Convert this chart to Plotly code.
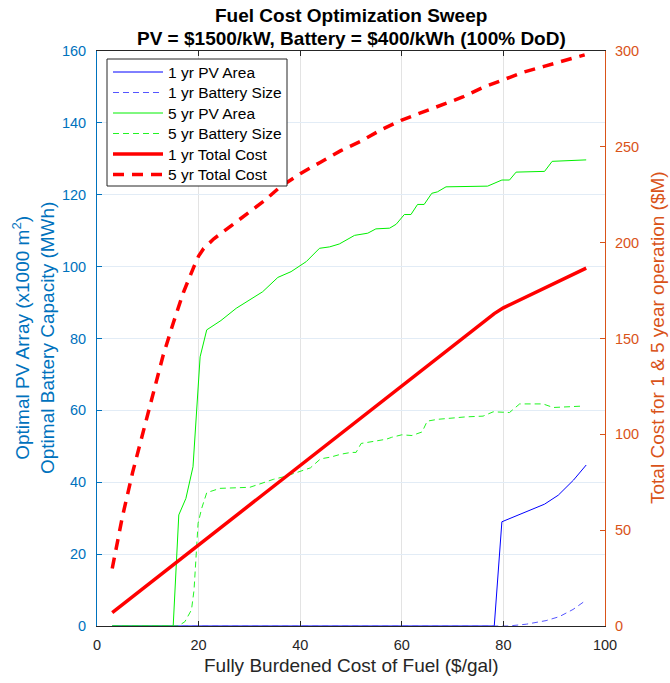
import plotly.graph_objects as go

# ---- data ----
# 1 yr PV Area (x1000 m^2)
pv1_x = [3, 78.2, 79.7, 83.8, 88.1, 90.8, 93.8, 96.3]
pv1_y = [0, 0, 29, 31.4, 33.9, 36.4, 40.6, 44.8]
# 1 yr Battery Size (MWh)
bat1_x = [3, 81, 84.5, 88.4, 91, 93.7, 96.3]
bat1_y = [0, 0, 0.5, 1.5, 2.6, 4.6, 7.2]
# 5 yr PV Area
pv5_x = [3, 15, 16.1, 17.5, 18.9, 19.6, 20.3, 21.6, 24.4, 27.4, 32.6, 35.6, 38.2, 41.2,
         43.8, 45.8, 47.7, 50.7, 53.3, 54.9, 57.6, 58.9, 60.5, 61.8, 63.1, 64.4, 65.9,
         67.0, 68.7, 76.9, 78.2, 79.7, 81.2, 82.5, 88.1, 89.6, 96.3]
pv5_y = [0, 0, 30.9, 35.5, 44.3, 60, 74.9, 82.4, 85, 88.4, 93, 97, 98.6, 101.4,
         105.1, 105.5, 106.3, 108.7, 109.3, 110.5, 110.7, 111.8, 114.5, 114.5, 117.3, 117.3, 120.4,
         120.8, 122.2, 122.4, 123.2, 124.1, 124.1, 126.3, 126.5, 129.3, 129.7]
# 5 yr Battery Size
bat5_x = [3, 16, 17.3, 18.6, 19.1, 19.4, 19.9, 20.6, 21.6, 24.2, 30.1, 34.7, 36.7, 39.3,
          42, 44, 46, 48, 50, 51, 52, 55, 57, 58, 60, 62, 64, 65, 67, 72.7, 76, 78, 80,
          81.2, 83.2, 87.8, 89.8, 95.7]
bat5_y = [0, 0, 1.2, 4.5, 10, 18.4, 28.6, 32.7, 37.1, 38.3, 38.6, 40.8, 41.5, 42.7,
          44, 46.5, 47, 47.8, 48.3, 48.3, 50.8, 51.5, 52, 52.5, 53.2, 53, 54, 57, 57.5, 58.2, 58.4, 59.6, 59.6,
          59.4, 61.8, 61.8, 60.8, 61.2]
# 1 yr Total Cost ($M)
cost1_x = [3, 78.2, 80, 96.3]
cost1_y = [7, 163, 166, 186.7]
# 5 yr Total Cost ($M)
cost5_x = [3, 5, 7, 9, 11, 13, 15, 17, 19, 20, 21, 23, 25, 28, 30, 33, 36, 40, 44, 48,
           52, 56, 60, 64, 68, 72, 76, 80, 84, 88, 92, 96]
cost5_y = [30, 57, 80, 100, 121, 141, 158, 174, 187, 193, 197, 202, 206, 212, 216, 222, 229, 236, 242, 248,
           253, 259, 264, 268, 272, 276, 281, 285, 289, 292, 295, 298]

x_ticks = [0, 20, 40, 60, 80, 100]
left_ticks = [0, 20, 40, 60, 80, 100, 120, 140, 160]
right_ticks = [0, 50, 100, 150, 200, 250, 300]

FONT = "Liberation Sans, Arial, sans-serif"
BLUE_AX = "#0072BD"
ORANGE_AX = "#D95319"
DARK = "#262626"

# plot-area pixel frame (for placing texts / legend)
PL, PR, PT, PB = 97, 605, 51, 626
def px(xp):
    return (xp - PL) / (PR - PL)
def py(yp):
    return (PB - yp) / (PB - PT)

series = [
    ("1 yr PV Area", pv1_x, pv1_y, "y", dict(color="#0000FF", width=1)),
    ("1 yr Battery Size", bat1_x, bat1_y, "y", dict(color="#5555FF", width=1, dash="6px,4px")),
    ("5 yr PV Area", pv5_x, pv5_y, "y", dict(color="#00F000", width=1)),
    ("5 yr Battery Size", bat5_x, bat5_y, "y", dict(color="#22F522", width=1, dash="6px,4px")),
    ("1 yr Total Cost", cost1_x, cost1_y, "y2", dict(color="#FF0000", width=3.5)),
    ("5 yr Total Cost", cost5_x, cost5_y, "y2", dict(color="#FF0000", width=3.5, dash="11px,8px")),
]

fig = go.Figure()
for name, xs, ys, ax, ln in series:
    fig.add_trace(go.Scatter(x=xs, y=ys, mode="lines", name=name, yaxis=ax, line=ln,
                             showlegend=False))

# legend drawn as a framed box with line samples and texts
shapes = [dict(type="rect", xref="paper", yref="paper",
               x0=px(107), x1=px(287), y0=py(59), y1=py(186),
               line=dict(color=DARK, width=1), fillcolor="white", layer="above")]
annotations = []
row_y = [72, 92.5, 113, 133.5, 154, 174.5]
for (name, xs, ys, ax, ln), ry in zip(series, row_y):
    shapes.append(dict(type="line", xref="paper", yref="paper",
                       x0=px(113), x1=px(163), y0=py(ry), y1=py(ry),
                       line=dict(color=ln["color"], width=ln["width"], dash=ln.get("dash", "solid")),
                       layer="above"))
    annotations.append(dict(text=name, xref="paper", yref="paper", x=px(166), y=py(ry),
                            xanchor="left", yanchor="middle", showarrow=False,
                            font=dict(size=15.5, color="black")))

# titles
annotations += [
    dict(text="<b>Fuel Cost Optimization Sweep</b>", xref="paper", yref="paper",
         x=px(351), y=py(15), xanchor="center", yanchor="middle", showarrow=False,
         font=dict(size=19, color="black")),
    dict(text="<b>PV = $1500/kW, Battery = $400/kWh (100% DoD)</b>", xref="paper", yref="paper",
         x=px(351), y=py(38), xanchor="center", yanchor="middle", showarrow=False,
         font=dict(size=19, color="black")),
    dict(text="Fully Burdened Cost of Fuel ($/gal)", xref="paper", yref="paper",
         x=px(351), y=py(665), xanchor="center", yanchor="middle", showarrow=False,
         font=dict(size=19, color=DARK)),
    dict(text="Optimal PV Array (x1000 m<sup>2</sup>)<br>Optimal Battery Capacity (MWh)",
         xref="paper", yref="paper", x=px(33), y=py(338), xanchor="center", yanchor="middle",
         textangle=-90, showarrow=False, font=dict(size=19, color=BLUE_AX)),
    dict(text="Total Cost for 1 &amp; 5 year operation ($M)", xref="paper", yref="paper",
         x=px(657), y=py(338), xanchor="center", yanchor="middle",
         textangle=-90, showarrow=False, font=dict(size=19, color=ORANGE_AX)),
]

fig.update_layout(
    width=670, height=683,
    margin=dict(l=PL, r=670 - PR, t=PT, b=683 - PB),
    paper_bgcolor="white", plot_bgcolor="white",
    font=dict(family=FONT, size=14, color=DARK),
    showlegend=False,
    shapes=shapes, annotations=annotations,
    xaxis=dict(
        range=[0, 100], tickvals=x_ticks, ticks="inside", ticklen=5, tickcolor=DARK,
        showline=True, linecolor=DARK, linewidth=1, mirror="ticks",
        showgrid=True, gridcolor="#E3E3E3", gridwidth=1, zeroline=False,
        tickfont=dict(size=14.5, color=DARK), ticklabelstandoff=6,
    ),
    yaxis=dict(
        range=[0, 160], tickvals=left_ticks, ticks="inside", ticklen=5, tickcolor=BLUE_AX,
        showline=True, linecolor=BLUE_AX, linewidth=1,
        showgrid=True, gridcolor="#E2ECF6", gridwidth=1, zeroline=False,
        tickfont=dict(size=14.5, color=BLUE_AX), ticklabelstandoff=7,
    ),
    yaxis2=dict(
        range=[0, 300], tickvals=right_ticks, ticks="inside", ticklen=5, tickcolor=ORANGE_AX,
        overlaying="y", side="right",
        showline=True, linecolor=ORANGE_AX, linewidth=1,
        showgrid=False, zeroline=False,
        tickfont=dict(size=14.5, color=ORANGE_AX), ticklabelstandoff=6,
    ),
)

fig.write_html("out.html")
